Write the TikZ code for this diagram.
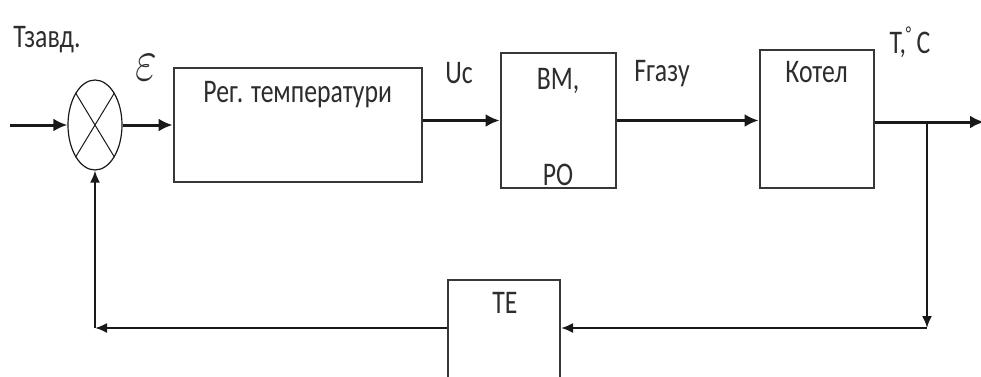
\documentclass[tikz,border=0pt]{standalone}
\usepackage{fontspec}
\setmainfont{Carlito}[FakeStretch=0.78]
\usepackage{xcolor}
\usepackage{graphicx}
\usepackage{tikz}
\usetikzlibrary{shapes.geometric, arrows.meta, positioning, calc}
\definecolor{mydark}{RGB}{25,25,25}
\definecolor{mytext}{RGB}{45,45,45}
\definecolor{myline}{RGB}{55,55,55}
\tikzset{
  block/.style={rectangle, draw=myline, fill=white, inner sep=0pt,
    line width=2pt},
  sumnode/.style={ellipse, draw=mydark, minimum width=54pt,
    minimum height=90pt, inner sep=0pt, line width=1.2pt},
  lbl/.style={font=\fontsize{33}{38}\selectfont, text=mytext, inner sep=1pt},
  arrow/.style={-{Latex[length=14pt,width=13pt]}, line width=3pt, color=mydark},
  fbarrow/.style={-{Latex[length=12pt,width=10pt]}, line width=2pt, color=mydark},
  line/.style={line width=2pt, color=mydark}
}

\begin{document}
\begin{tikzpicture}[x=1pt, y=1pt]
  \useasboundingbox (0,0) rectangle (981,-376);

  \node[sumnode] (sum) at (95,-125) {};
  \draw[line width=1pt, color=mydark] (sum.north west) -- (sum.south east);
  \draw[line width=1pt, color=mydark] (sum.north east) -- (sum.south west);
  \node[block, minimum width=248pt, minimum height=114pt, right=50pt of sum] (reg) {};
  \node[block, minimum width=115pt, minimum height=135pt, right=77pt of reg, yshift=4.5pt] (bm) {};
  \node[block, minimum width=114pt, minimum height=138pt, right=142pt of bm, yshift=1.5pt] (kotel) {};
  \node[block, minimum width=112pt, minimum height=110pt] (te) at (504,-335) {};

  % labels
  \node[lbl] (tzavd) at (47,-40) {Тзавд.};
  \node[lbl] (eps) at (146,-68) {\scalebox{1.9}[2.4]{$\varepsilon$}};
  \node[lbl, below=13pt of reg.north] (regtxt) {Рег. температури};
  \node[lbl] (uc) at (459,-73) {Uc};
  \node[lbl, below=15pt of bm.north] (bmtxt) {ВМ,};
  \node[lbl, above=2pt of bm.south] (potxt) {РО};
  \node[lbl] (fgazu) at (662,-74) {Fгазу};
  \node[lbl, below=11pt of kotel.north] (kottxt) {Котел};
  \node[lbl] (temp) at (910,-42) {T,\raisebox{13pt}{\fontsize{20}{20}\selectfont °}\,C};
  \node[lbl] (tetxt) at (505,-303) {ТЕ};

  % connectors
  \coordinate (in) at (10,-125);
  \coordinate (out) at (984,-122);
  \coordinate (branch) at (927,-122);
  \coordinate (fbr) at (927,-328);
  \coordinate (fbl) at (95,-328);

  \draw[arrow] (in) -- (sum.west);
  \draw[arrow] (sum.east) -- (reg.west);
  \draw[arrow] (reg.east |- bm.west) -- (bm.west);
  \draw[arrow] (bm.east) -- (kotel.west |- bm.east);
  \draw[arrow] (kotel.east |- out) -- (out);
  \draw[fbarrow] (branch) -- (fbr);
  \draw[fbarrow] (fbr) -- (te.east |- fbr);
  \draw[fbarrow] (te.west |- fbl) -- (fbl);
  \draw[fbarrow] (fbl) -- (sum.south);
\end{tikzpicture}
\end{document}
